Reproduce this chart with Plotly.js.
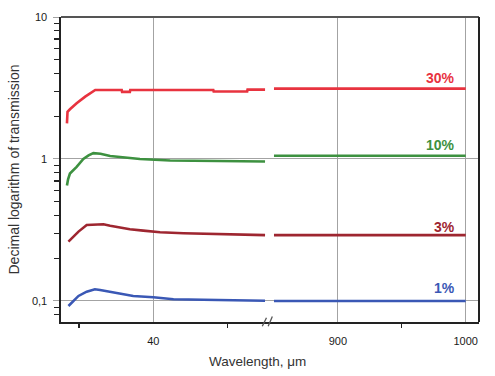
<!DOCTYPE html>
<html>
<head>
<meta charset="utf-8">
<script src="https://cdn.plot.ly/plotly-3.0.1.min.js"></script>
<style>html,body{margin:0;padding:0;background:#fff;}#chart{width:495px;height:376px;}</style>
</head>
<body>
<div id="chart"></div>
<script>
// ---- data ----
const seriesNames = ["30%", "10%", "3%", "1%"];
const seriesColors = ["#e8333f", "#3d9140", "#9e2630", "#3a58b5"];

// left segment (short wavelengths, µm)
const xRed   = [16.8, 16.95, 17.6, 19.4, 21.7, 23.9, 24.4, 31.5, 31.6, 33.7, 33.8, 56.1, 56.2, 65.2, 65.3, 70.0];
const yRed   = [1.78, 2.15, 2.24, 2.47, 2.75, 2.98, 3.06, 3.06, 2.97, 2.97, 3.06, 3.06, 2.99, 2.99, 3.08, 3.08];
const xGreen = [16.8, 17.1, 17.6, 19.4, 21.2, 22.6, 23.9, 25.8, 28.4, 31.1, 34.6, 36.4, 44.5, 70.0];
const yGreen = [0.65, 0.72, 0.79, 0.88, 1.0, 1.06, 1.10, 1.09, 1.05, 1.03, 1.01, 1.0, 0.975, 0.96];
const xDark  = [17.2, 19.9, 22.1, 26.6, 28.4, 31.1, 33.7, 37.3, 41.8, 48.1, 61.9, 68.7, 70.0];
const yDark  = [0.262, 0.308, 0.343, 0.347, 0.339, 0.330, 0.320, 0.313, 0.305, 0.300, 0.295, 0.291, 0.291];
const xBlue  = [17.2, 19.9, 22.1, 24.3, 25.7, 28.4, 31.1, 34.6, 40.0, 45.4, 57.4, 68.6, 70.0];
const yBlue  = [0.0922, 0.1085, 0.1163, 0.1209, 0.1195, 0.1163, 0.1133, 0.1085, 0.1062, 0.1028, 0.1016, 0.1005, 0.1005];

// right segment (long wavelengths, µm)
const xRight = [850, 1000];
const yRightRed   = [3.13, 3.13];
const yRightGreen = [1.055, 1.055];
const yRightDark  = [0.291, 0.291];
const yRightBlue  = [0.100, 0.100];

// tick labels
const yTickVals = [0.1, 1, 10];
const yTickText = ["0,1", "1", "10"];
const yMinorVals = [0.08, 0.09, 0.2, 0.3, 0.4, 0.5, 0.6, 0.7, 0.8, 0.9, 2, 3, 4, 5, 6, 7, 8, 9];
const xLeftTicks = [40];
const xLeftMinor = [20, 60];
const xRightTicks = [900, 1000];
const xRightMinor = [950];

// ---- chart ----
const leftX = [xRed, xGreen, xDark, xBlue];
const leftY = [yRed, yGreen, yDark, yBlue];
const rightY = [yRightRed, yRightGreen, yRightDark, yRightBlue];
const labelShift = [10.7, 10.4, 8.3, 12.7];

const traces = [];
for (let i = 0; i < 4; i++) {
  traces.push({x: leftX[i], y: leftY[i], xaxis: "x", yaxis: "y", mode: "lines",
    line: {color: seriesColors[i], width: 2.6}, showlegend: false, hoverinfo: "skip"});
  traces.push({x: xRight, y: rightY[i], xaxis: "x2", yaxis: "y", mode: "lines",
    line: {color: seriesColors[i], width: 2.6}, showlegend: false, hoverinfo: "skip"});
}

const split = 0.4976;
const gridCol = "#a3a3a3";
const tickFont = {family: "Liberation Sans, Arial, sans-serif", size: 11, color: "#1a1a1a"};

const annotations = seriesNames.map((name, i) => ({
  xref: "x2", yref: "y", x: 993, y: Math.log10(rightY[i][1]),
  xanchor: "right", yanchor: "middle", yshift: labelShift[i],
  text: "<b>" + name + "</b>", showarrow: false,
  font: {family: "Liberation Sans, Arial, sans-serif", size: 14, color: seriesColors[i]}
}));
annotations.push({xref: "paper", yref: "paper", x: 0.469, y: -0.131, xanchor: "center", yanchor: "middle",
  text: "Wavelength, μm", showarrow: false,
  font: {family: "Liberation Sans, Arial, sans-serif", size: 13.5, color: "#333"}});
annotations.push({xref: "paper", yref: "paper", x: -0.1148, y: 0.50, xanchor: "center", yanchor: "middle",
  text: "Decimal logarithm of transmission", textangle: -90, showarrow: false,
  font: {family: "Liberation Sans, Arial, sans-serif", size: 14, color: "#333"}});

const shapes = [
  {type: "line", xref: "paper", yref: "paper", x0: 0, x1: 1, y0: 1, y1: 1, line: {color: "#555", width: 2}},
  {type: "line", xref: "paper", yref: "paper", x0: 1, x1: 1, y0: 0, y1: 1, line: {color: "#222", width: 2}},
  {type: "line", xref: "paper", yref: "paper", x0: split - 0.016, x1: split - 0.006, y0: -0.014, y1: 0.014, line: {color: "#555", width: 1.3}},
  {type: "line", xref: "paper", yref: "paper", x0: split - 0.002, x1: split + 0.008, y0: -0.014, y1: 0.018, line: {color: "#555", width: 1.3}}
];

const layout = {
  width: 495, height: 376,
  margin: {l: 61, r: 16, t: 17, b: 54, pad: 0},
  paper_bgcolor: "#fff", plot_bgcolor: "#fff",
  xaxis: {domain: [0, split], range: [15.2, 71.06], anchor: "y",
    tickmode: "array", tickvals: xLeftTicks, ticktext: xLeftTicks.map(String),
    ticks: "", showgrid: true, gridcolor: gridCol, gridwidth: 1, zeroline: false,
    showline: true, linecolor: "#222", linewidth: 1.6, tickfont: tickFont, ticklabelstandoff: 8,
    minor: {tickmode: "array", tickvals: xLeftMinor, ticks: "outside", ticklen: 4, tickcolor: "#222", tickwidth: 1.3, showgrid: false}},
  xaxis2: {domain: [split, 1], range: [846.1, 1010.4], anchor: "y",
    tickmode: "array", tickvals: xRightTicks, ticktext: xRightTicks.map(String),
    ticks: "", showgrid: true, gridcolor: gridCol, gridwidth: 1, zeroline: false,
    showline: true, linecolor: "#222", linewidth: 1.6, tickfont: tickFont, ticklabelstandoff: 8,
    minor: {tickmode: "array", tickvals: xRightMinor, ticks: "outside", ticklen: 4, tickcolor: "#222", tickwidth: 1.3, showgrid: false}},
  yaxis: {type: "log", range: [-1.148, 1], anchor: "x",
    tickmode: "array", tickvals: yTickVals, ticktext: yTickText,
    ticks: "outside", ticklen: 6, tickcolor: gridCol, tickwidth: 1,
    showgrid: true, gridcolor: gridCol, gridwidth: 1, zeroline: false,
    showline: true, linecolor: "#222", linewidth: 1.6, tickfont: tickFont, ticklabelstandoff: 4,
    minor: {tickmode: "array", tickvals: yMinorVals, ticks: "outside", ticklen: 5, tickcolor: "#222", tickwidth: 1.2, showgrid: false}},
  annotations: annotations,
  shapes: shapes
};

Plotly.newPlot("chart", traces, layout, {staticPlot: true, displayModeBar: false});
</script>
</body>
</html>
